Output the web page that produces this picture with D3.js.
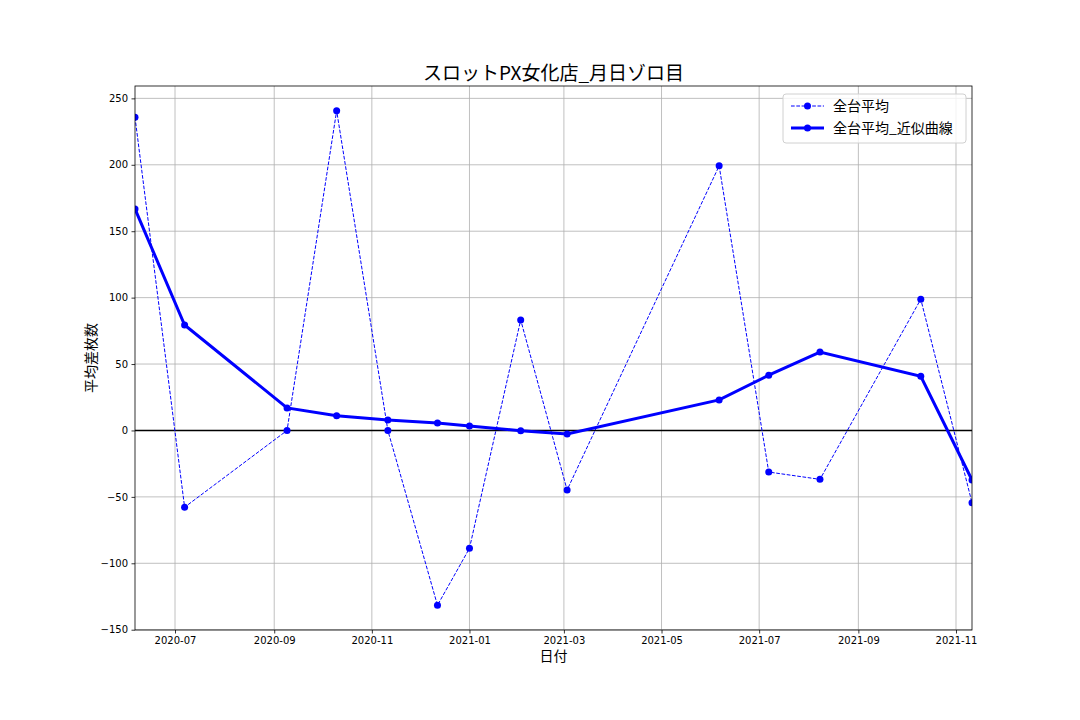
<!DOCTYPE html>
<html>
<head>
<meta charset="utf-8">
<script src="https://cdn.jsdelivr.net/npm/d3@7"></script>
<style>
    body { margin: 0; background: #fff; }
    text { font-family: "DejaVu Sans", sans-serif; }
    .jp { font-family: "Noto Sans CJK JP", sans-serif; }
</style>
</head>
<body>
<svg id="chart"></svg>
<script>
    // zorome days (month == day)
    var dates = ["2020-06-06", "2020-07-07", "2020-09-09", "2020-10-10", "2020-11-11", "2020-12-12",
        "2021-01-01", "2021-02-02", "2021-03-03", "2021-06-06", "2021-07-07", "2021-08-08",
        "2021-10-10", "2021-11-11"];
    var avgValues = [235.8, -57.8, 0, 240.7, 0, -131.6, -88.7, 83.2, -44.8, 199.2, -31.3, -36.8, 98.8, -54.4];
    var smoothValues = [166.8, 79.4, 17, 11, 7.8, 5.7, 3.4, -0.2, -2.6, 23, 41.6, 59, 40.8, -37.3];
    var yTicks = [-150, -100, -50, 0, 50, 100, 150, 200, 250];
    var seriesNames = ["全台平均", "全台平均_近似曲線"];

    var width = 1080;
    var height = 720;
    var margin = { top: 86, right: 108, bottom: 90, left: 135 };

    var parseDate = d3.timeParse("%Y-%m-%d");
    var avgData = dates.map(function (d, i) {
        return { date: parseDate(d), value: avgValues[i] };
    });
    var smoothData = dates.map(function (d, i) {
        return { date: parseDate(d), value: smoothValues[i] };
    });

    var svg = d3.select("#chart")
        .attr("width", width)
        .attr("height", height);

    var x = d3.scaleTime()
        .domain(d3.extent(avgData, function (d) { return d.date; }))
        .range([margin.left, width - margin.right]);

    // matplotlib style 5% margins
    var yMin = d3.min(avgValues.concat(smoothValues));
    var yMax = d3.max(avgValues.concat(smoothValues));
    var pad = (yMax - yMin) * 0.05;
    var y = d3.scaleLinear()
        .domain([yMin - pad, yMax + pad])
        .range([height - margin.bottom, margin.top]);

    var xTicks = d3.timeMonth.range(new Date(2020, 6, 1), new Date(2021, 11, 2), 2);

    svg.append("clipPath")
        .attr("id", "plotClip")
        .append("rect")
        .attr("x", margin.left)
        .attr("y", margin.top)
        .attr("width", width - margin.left - margin.right)
        .attr("height", height - margin.top - margin.bottom);

    // grid
    svg.append("g")
        .selectAll("line")
        .data(xTicks)
        .enter().append("line")
        .attr("x1", function (d) { return x(d); })
        .attr("x2", function (d) { return x(d); })
        .attr("y1", margin.top)
        .attr("y2", height - margin.bottom)
        .style("stroke", "#b0b0b0")
        .style("stroke-width", 0.8);

    svg.append("g")
        .selectAll("line")
        .data(yTicks)
        .enter().append("line")
        .attr("x1", margin.left)
        .attr("x2", width - margin.right)
        .attr("y1", function (d) { return y(d); })
        .attr("y2", function (d) { return y(d); })
        .style("stroke", "#b0b0b0")
        .style("stroke-width", 0.8);

    var plot = svg.append("g").attr("clip-path", "url(#plotClip)");

    // zero line
    plot.append("line")
        .attr("x1", margin.left)
        .attr("x2", width - margin.right)
        .attr("y1", y(0))
        .attr("y2", y(0))
        .style("stroke", "#000")
        .style("stroke-width", 1.5);

    var line = d3.line()
        .x(function (d) { return x(d.date); })
        .y(function (d) { return y(d.value); });

    plot.append("path")
        .datum(avgData)
        .attr("d", line)
        .style("fill", "none")
        .style("stroke", "blue")
        .style("stroke-width", 1)
        .style("stroke-dasharray", "3.7,1.6");

    plot.selectAll(".avgDot")
        .data(avgData)
        .enter().append("circle")
        .attr("class", "avgDot")
        .attr("cx", function (d) { return x(d.date); })
        .attr("cy", function (d) { return y(d.value); })
        .attr("r", 3.5)
        .style("fill", "blue");

    plot.append("path")
        .datum(smoothData)
        .attr("d", line)
        .style("fill", "none")
        .style("stroke", "blue")
        .style("stroke-width", 3);

    plot.selectAll(".smoothDot")
        .data(smoothData)
        .enter().append("circle")
        .attr("class", "smoothDot")
        .attr("cx", function (d) { return x(d.date); })
        .attr("cy", function (d) { return y(d.value); })
        .attr("r", 3.5)
        .style("fill", "blue");

    // axes
    var xAxis = svg.append("g")
        .attr("transform", "translate(0," + (height - margin.bottom) + ")")
        .call(d3.axisBottom(x).tickValues(xTicks).tickFormat(d3.timeFormat("%Y-%m")).tickSizeOuter(0).tickSize(3.5).tickPadding(3.5));

    var yAxis = svg.append("g")
        .attr("transform", "translate(" + margin.left + ",0)")
        .call(d3.axisLeft(y).tickValues(yTicks).tickFormat(function (d) {
            return d < 0 ? "\u2212" + Math.abs(d) : d;
        }).tickSizeOuter(0).tickSize(3.5).tickPadding(3.5));

    [xAxis, yAxis].forEach(function (a) {
        a.select(".domain").remove();
        a.selectAll("text").style("font-size", "10px").style("fill", "#000")
            .style("font-family", "'DejaVu Sans', sans-serif");
        a.selectAll("line").style("stroke", "#000").style("stroke-width", 0.8);
    });

    // frame
    svg.append("rect")
        .attr("x", margin.left)
        .attr("y", margin.top)
        .attr("width", width - margin.left - margin.right)
        .attr("height", height - margin.top - margin.bottom)
        .style("fill", "none")
        .style("stroke", "#000")
        .style("stroke-width", 0.8);

    // labels
    svg.append("text")
        .attr("class", "jp")
        .attr("x", (margin.left + width - margin.right) / 2)
        .attr("y", 80)
        .attr("text-anchor", "middle")
        .style("font-size", "19px")
        .text("スロットPX女化店_月日ゾロ目");

    svg.append("text")
        .attr("class", "jp")
        .attr("x", (margin.left + width - margin.right) / 2)
        .attr("y", 661)
        .attr("text-anchor", "middle")
        .style("font-size", "14px")
        .text("日付");

    svg.append("text")
        .attr("class", "jp")
        .attr("transform", "translate(96," + ((margin.top + height - margin.bottom) / 2) + ") rotate(-90)")
        .attr("text-anchor", "middle")
        .style("font-size", "14px")
        .text("平均差枚数");

    // legend
    var legend = svg.append("g").attr("transform", "translate(783,94)");
    legend.append("rect")
        .attr("width", 183)
        .attr("height", 49)
        .attr("rx", 3)
        .style("fill", "rgba(255,255,255,0.8)")
        .style("stroke", "#d0d0d0")
        .style("stroke-width", 1);

    legend.selectAll(".item")
        .data(seriesNames)
        .enter().append("g")
        .attr("class", "item")
        .each(function (d, i) {
            var g = d3.select(this).attr("transform", "translate(0," + (12 + i * 22) + ")");
            g.append("line")
                .attr("x1", 8)
                .attr("x2", 41)
                .attr("y1", 0)
                .attr("y2", 0)
                .style("stroke", "blue")
                .style("stroke-width", i == 0 ? 1 : 3)
                .style("stroke-dasharray", i == 0 ? "3.7,1.6" : null);
            g.append("circle")
                .attr("cx", 24.5)
                .attr("cy", 0)
                .attr("r", 3.5)
                .style("fill", "blue");
            g.append("text")
                .attr("class", "jp")
                .attr("x", 50)
                .attr("y", 5)
                .style("font-size", "14px")
                .text(d);
        });
</script>
</body>
</html>
